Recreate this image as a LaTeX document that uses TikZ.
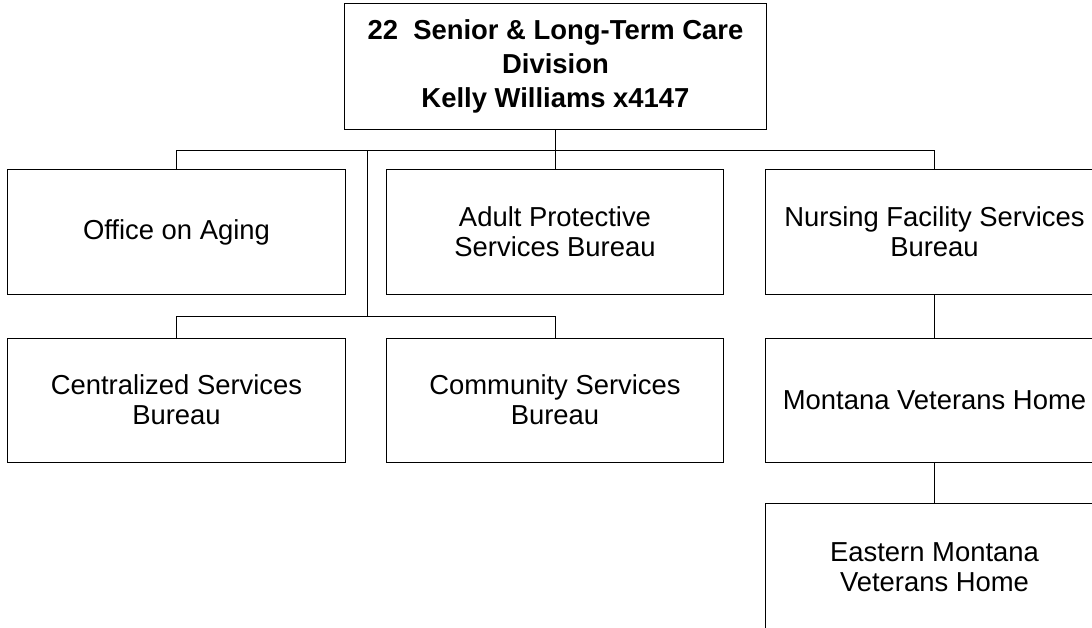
\documentclass[tikz,border=0pt]{standalone}
\usepackage{fontspec}
\setmainfont{Liberation Sans}

\begin{document}
\begin{tikzpicture}[x=0.025cm,y=-0.025cm,line width=0.7pt,
    unitbox/.style={draw,rectangle,inner sep=0pt,align=center,
        minimum width=8.425cm,minimum height=3.1cm,
        font=\fontsize{19.5}{21.5}\selectfont},
    headbox/.style={draw,rectangle,inner sep=0pt,align=center,
        minimum width=10.525cm,minimum height=3.125cm,
        font=\bfseries\fontsize{19.5}{24}\selectfont}]
    % Page frame
    \useasboundingbox (0,0) rectangle (1092,627);
    \clip (0,0) rectangle (1092,627);

    % Division head
    \node[headbox] (division) at (555.5,66.5)
        {22\ \ Senior \& Long-Term Care\\Division\\Kelly Williams x4147};

    % First row of bureaus
    \node[unitbox] (aging) at (176.5,232) {Office on Aging};
    \node[unitbox,minimum width=8.4cm] (adult) at (555,232) {Adult Protective\\Services Bureau};
    \node[unitbox] (nursing) at (934.5,232) {Nursing Facility Services\\Bureau};

    % Second row
    \node[unitbox] (central) at (176.5,400) {Centralized Services\\Bureau};
    \node[unitbox,minimum width=8.4cm] (community) at (555,400) {Community Services\\Bureau};
    \node[unitbox] (mvh) at (934.5,400) {Montana Veterans Home};

    % Third row, runs off the page
    \node[unitbox,minimum height=3.2cm] (emvh) at (934.5,567) {Eastern Montana\\Veterans Home};

    % Connectors
    \coordinate (bus) at (367,150);
    \coordinate (subbus) at (367,316);
    \draw (division.south) -- (division.south |- bus);
    \draw (aging.north) -- (aging.north |- bus) -- (nursing.north |- bus) -- (nursing.north);
    \draw (adult.north) -- (adult.north |- bus);
    \draw (bus) -- (subbus);
    \draw (central.north) -- (central.north |- subbus) -- (community.north |- subbus) -- (community.north);
    \draw (nursing.south) -- (mvh.north);
    \draw (mvh.south) -- (emvh.north);

\end{tikzpicture}
\end{document}
